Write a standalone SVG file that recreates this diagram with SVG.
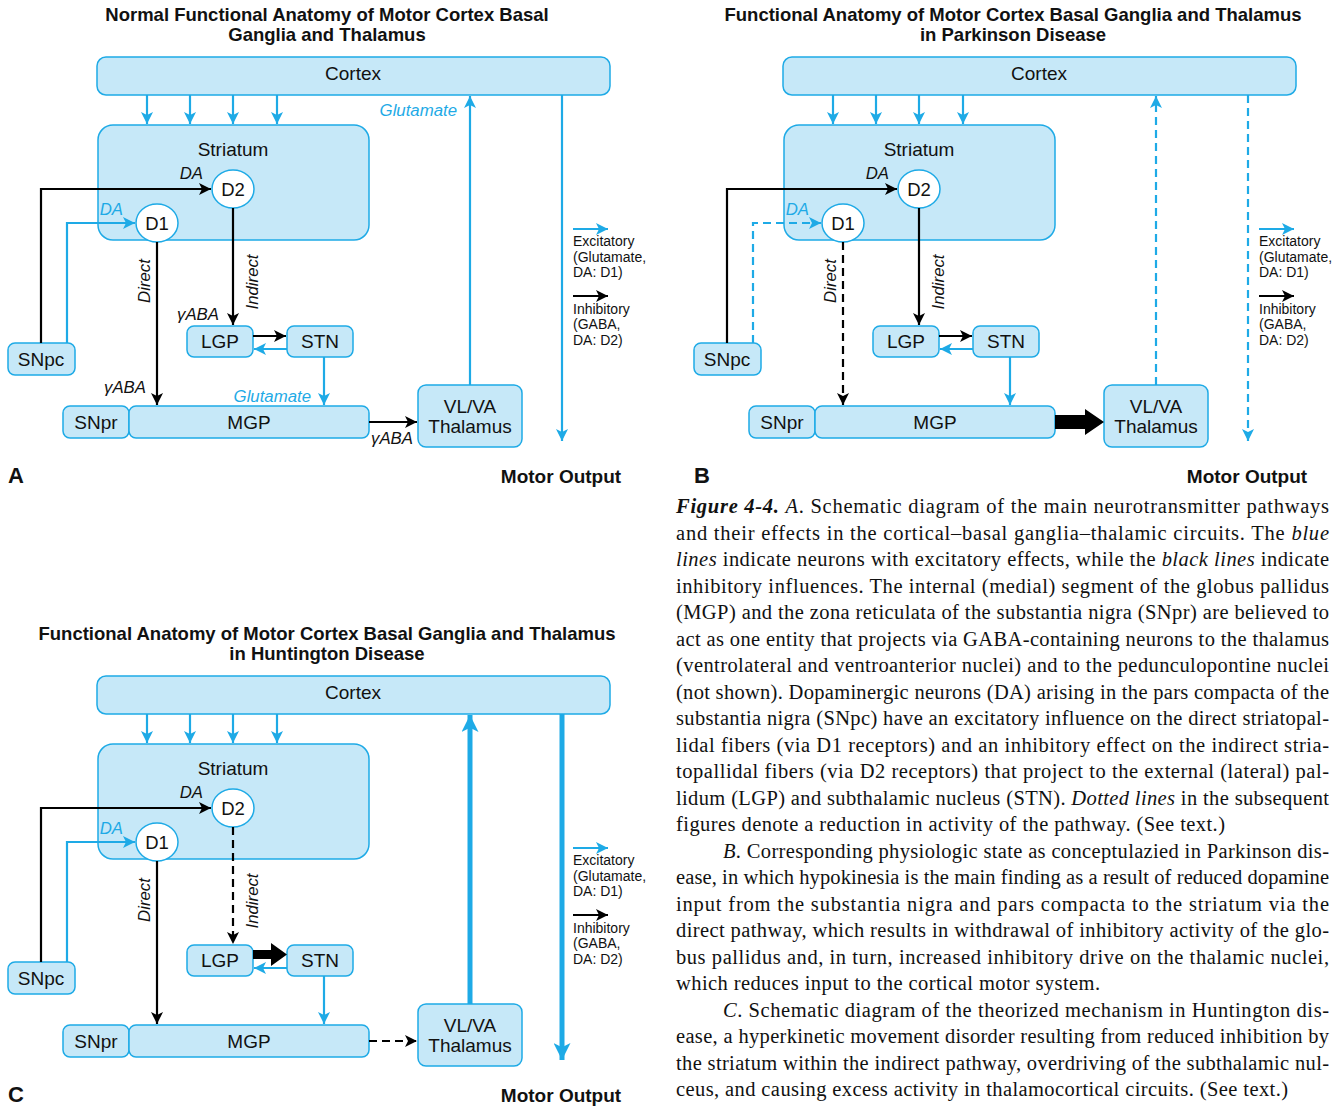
<svg xmlns="http://www.w3.org/2000/svg" width="1340" height="1107" viewBox="0 0 1340 1107">
<style>
.box{fill:#c6e8f8;stroke:#1eaae6;stroke-width:1.5}
.rc{fill:#fff;stroke:#1eaae6;stroke-width:1.5}
.t{font-family:"Liberation Sans",Arial,sans-serif;font-size:19px;text-anchor:middle;fill:#111}
.d{font-size:18.5px}
.ttl{font-family:"Liberation Sans",Arial,sans-serif;font-size:18.5px;font-weight:bold;text-anchor:middle;fill:#111}
.big{font-family:"Liberation Sans",Arial,sans-serif;font-size:22px;font-weight:bold;fill:#111}
.mo{font-family:"Liberation Sans",Arial,sans-serif;font-size:19px;font-weight:bold;text-anchor:middle;fill:#111}
.it{font-family:"Liberation Sans",Arial,sans-serif;font-size:16.8px;font-style:italic;fill:#111}
.itb{font-family:"Liberation Sans",Arial,sans-serif;font-size:16.8px;font-style:italic;fill:#1eaae6}
.lg{font-family:"Liberation Sans",Arial,sans-serif;font-size:14px;fill:#111}
.b{stroke:#1eaae6;stroke-width:2.2;fill:none}
.k{stroke:#000;stroke-width:2.2;fill:none}
.bt{stroke:#1eaae6;stroke-width:5;fill:none}
.ds{stroke-dasharray:8 5}
.cap{font-family:"Liberation Serif","Times New Roman",serif;font-size:20.5px;fill:#111}
</style>
<defs>
<marker id="mb" viewBox="0 0 10 10" refX="10" refY="5" markerWidth="12" markerHeight="12" markerUnits="userSpaceOnUse" orient="auto"><path d="M0,0 L10,5 L0,10 L2.5,5 z" fill="#1eaae6"/></marker>
<marker id="mk" viewBox="0 0 10 10" refX="10" refY="5" markerWidth="12" markerHeight="12" markerUnits="userSpaceOnUse" orient="auto"><path d="M0,0 L10,5 L0,10 L2.5,5 z" fill="#000"/></marker>
<marker id="mbb" viewBox="0 0 10 10" refX="10" refY="5" markerWidth="17" markerHeight="17" markerUnits="userSpaceOnUse" orient="auto"><path d="M0,0 L10,5 L0,10 L2.5,5 z" fill="#1eaae6"/></marker>
</defs>

<!-- ================= PANEL A ================= -->
<g id="panelA">
<text class="ttl" x="327" y="21">Normal Functional Anatomy of Motor Cortex Basal</text>
<text class="ttl" x="327" y="41">Ganglia and Thalamus</text>
<g id="A-cortex"><rect class="box" x="97" y="57" width="513" height="38" rx="9"/><text class="t" x="353" y="80">Cortex</text></g>
<g id="A-striatum"><rect class="box" x="98" y="125" width="271" height="115" rx="15"/><text class="t" x="233" y="156">Striatum</text></g>
<g id="A-D2"><ellipse class="rc" cx="233" cy="189" rx="21" ry="19"/><text class="t d" x="233" y="195.5">D2</text></g>
<g id="A-D1"><ellipse class="rc" cx="157" cy="223" rx="21" ry="19"/><text class="t d" x="157" y="229.5">D1</text></g>
<g id="A-SNpc"><rect class="box" x="8" y="343" width="67" height="32" rx="7"/><text class="t" x="41" y="366">SNpc</text></g>
<g id="A-LGP"><rect class="box" x="187" y="326" width="66" height="31" rx="7"/><text class="t" x="220" y="348">LGP</text></g>
<g id="A-STN"><rect class="box" x="287" y="326" width="66" height="31" rx="7"/><text class="t" x="320" y="348">STN</text></g>
<g id="A-SNpr"><rect class="box" x="63" y="406" width="66" height="32" rx="7"/><text class="t" x="96" y="429">SNpr</text></g>
<g id="A-MGP"><rect class="box" x="129" y="406" width="240" height="32" rx="7"/><text class="t" x="249" y="429">MGP</text></g>
<g id="A-thal"><rect class="box" x="418" y="385" width="104" height="62" rx="8"/><text class="t" x="470" y="413">VL/VA</text><text class="t" x="470" y="433">Thalamus</text></g>
<g id="A-connectors">
<path class="b" d="M147,95 V124" marker-end="url(#mb)"/>
<path class="b" d="M190,95 V124" marker-end="url(#mb)"/>
<path class="b" d="M233,95 V124" marker-end="url(#mb)"/>
<path class="b" d="M277,95 V124" marker-end="url(#mb)"/>
<path class="k" d="M41,343 V189 H211" marker-end="url(#mk)"/>
<path class="b" d="M67,343 V223 H135" marker-end="url(#mb)"/>
<path class="k" d="M157,242 V405" marker-end="url(#mk)"/>
<path class="k" d="M233,208 V325" marker-end="url(#mk)"/>
<path class="k" d="M253,336 H286" marker-end="url(#mk)"/>
<path class="b" d="M287,349 H254" marker-end="url(#mb)"/>
<path class="b" d="M324,357 V405" marker-end="url(#mb)"/>
<path class="k" d="M369,422 H417" marker-end="url(#mk)"/>
<path class="b" d="M470,385 V96" marker-end="url(#mb)"/>
<path class="b" d="M562,95 V441" marker-end="url(#mb)"/>
</g>
<text class="it" x="203" y="179" text-anchor="end">DA</text>
<text class="itb" x="123" y="215" text-anchor="end">DA</text>
<text class="it" transform="translate(150,281) rotate(-90)" text-anchor="middle">Direct</text>
<text class="it" transform="translate(258,282) rotate(-90)" text-anchor="middle">Indirect</text>
<text class="it" x="219" y="320" text-anchor="end">γABA</text>
<text class="it" x="146" y="393" text-anchor="end">γABA</text>
<text class="it" x="371" y="444">γABA</text>
<text class="itb" x="457" y="116" text-anchor="end">Glutamate</text>
<text class="itb" x="311" y="402" text-anchor="end">Glutamate</text>
<g id="A-legend">
<path class="b" d="M573,229 H608" marker-end="url(#mb)"/>
<text class="lg" x="573" y="246">Excitatory</text><text class="lg" x="573" y="262">(Glutamate,</text><text class="lg" x="573" y="277">DA: D1)</text>
<path class="k" d="M573,296 H608" marker-end="url(#mk)"/>
<text class="lg" x="573" y="314">Inhibitory</text><text class="lg" x="573" y="329">(GABA,</text><text class="lg" x="573" y="345">DA: D2)</text>
</g>
<text class="big" x="8" y="483">A</text>
<text class="mo" x="561" y="483">Motor Output</text>
</g>

<!-- ================= PANEL B ================= -->
<g id="panelB" transform="translate(686,0)">
<text class="ttl" x="327" y="21">Functional Anatomy of Motor Cortex Basal Ganglia and Thalamus</text>
<text class="ttl" x="327" y="41">in Parkinson Disease</text>
<g id="B-cortex"><rect class="box" x="97" y="57" width="513" height="38" rx="9"/><text class="t" x="353" y="80">Cortex</text></g>
<g id="B-striatum"><rect class="box" x="98" y="125" width="271" height="115" rx="15"/><text class="t" x="233" y="156">Striatum</text></g>
<g id="B-D2"><ellipse class="rc" cx="233" cy="189" rx="21" ry="19"/><text class="t d" x="233" y="195.5">D2</text></g>
<g id="B-D1"><ellipse class="rc" cx="157" cy="223" rx="21" ry="19"/><text class="t d" x="157" y="229.5">D1</text></g>
<g id="B-SNpc"><rect class="box" x="8" y="343" width="67" height="32" rx="7"/><text class="t" x="41" y="366">SNpc</text></g>
<g id="B-LGP"><rect class="box" x="187" y="326" width="66" height="31" rx="7"/><text class="t" x="220" y="348">LGP</text></g>
<g id="B-STN"><rect class="box" x="287" y="326" width="66" height="31" rx="7"/><text class="t" x="320" y="348">STN</text></g>
<g id="B-SNpr"><rect class="box" x="63" y="406" width="66" height="32" rx="7"/><text class="t" x="96" y="429">SNpr</text></g>
<g id="B-MGP"><rect class="box" x="129" y="406" width="240" height="32" rx="7"/><text class="t" x="249" y="429">MGP</text></g>
<g id="B-thal"><rect class="box" x="418" y="385" width="104" height="62" rx="8"/><text class="t" x="470" y="413">VL/VA</text><text class="t" x="470" y="433">Thalamus</text></g>
<g id="B-connectors">
<path class="b" d="M147,95 V124" marker-end="url(#mb)"/>
<path class="b" d="M190,95 V124" marker-end="url(#mb)"/>
<path class="b" d="M233,95 V124" marker-end="url(#mb)"/>
<path class="b" d="M277,95 V124" marker-end="url(#mb)"/>
<path class="k" d="M41,343 V189 H211" marker-end="url(#mk)"/>
<path class="b ds" d="M67,343 V223 H135" marker-end="url(#mb)"/>
<path class="k ds" d="M157,242 V405" marker-end="url(#mk)"/>
<path class="k" d="M233,208 V325" marker-end="url(#mk)"/>
<path class="k" d="M253,336 H286" marker-end="url(#mk)"/>
<path class="b" d="M287,349 H254" marker-end="url(#mb)"/>
<path class="b" d="M324,357 V405" marker-end="url(#mb)"/>
<path d="M369,415 H399 V409 L418,422 L399,435 V429 H369 z" fill="#000"/>
<path class="b ds" d="M470,385 V96" marker-end="url(#mb)"/>
<path class="b ds" d="M562,95 V441" marker-end="url(#mb)"/>
</g>
<text class="it" x="203" y="179" text-anchor="end">DA</text>
<text class="itb" x="123" y="215" text-anchor="end">DA</text>
<text class="it" transform="translate(150,281) rotate(-90)" text-anchor="middle">Direct</text>
<text class="it" transform="translate(258,282) rotate(-90)" text-anchor="middle">Indirect</text>
<g id="B-legend">
<path class="b" d="M573,229 H608" marker-end="url(#mb)"/>
<text class="lg" x="573" y="246">Excitatory</text><text class="lg" x="573" y="262">(Glutamate,</text><text class="lg" x="573" y="277">DA: D1)</text>
<path class="k" d="M573,296 H608" marker-end="url(#mk)"/>
<text class="lg" x="573" y="314">Inhibitory</text><text class="lg" x="573" y="329">(GABA,</text><text class="lg" x="573" y="345">DA: D2)</text>
</g>
<text class="big" x="8" y="483">B</text>
<text class="mo" x="561" y="483">Motor Output</text>
</g>

<!-- ================= PANEL C ================= -->
<g id="panelC" transform="translate(0,619)">
<text class="ttl" x="327" y="21">Functional Anatomy of Motor Cortex Basal Ganglia and Thalamus</text>
<text class="ttl" x="327" y="41">in Huntington Disease</text>
<g id="C-cortex"><rect class="box" x="97" y="57" width="513" height="38" rx="9"/><text class="t" x="353" y="80">Cortex</text></g>
<g id="C-striatum"><rect class="box" x="98" y="125" width="271" height="115" rx="15"/><text class="t" x="233" y="156">Striatum</text></g>
<g id="C-D2"><ellipse class="rc" cx="233" cy="189" rx="21" ry="19"/><text class="t d" x="233" y="195.5">D2</text></g>
<g id="C-D1"><ellipse class="rc" cx="157" cy="223" rx="21" ry="19"/><text class="t d" x="157" y="229.5">D1</text></g>
<g id="C-SNpc"><rect class="box" x="8" y="343" width="67" height="32" rx="7"/><text class="t" x="41" y="366">SNpc</text></g>
<g id="C-LGP"><rect class="box" x="187" y="326" width="66" height="31" rx="7"/><text class="t" x="220" y="348">LGP</text></g>
<g id="C-STN"><rect class="box" x="287" y="326" width="66" height="31" rx="7"/><text class="t" x="320" y="348">STN</text></g>
<g id="C-SNpr"><rect class="box" x="63" y="406" width="66" height="32" rx="7"/><text class="t" x="96" y="429">SNpr</text></g>
<g id="C-MGP"><rect class="box" x="129" y="406" width="240" height="32" rx="7"/><text class="t" x="249" y="429">MGP</text></g>
<g id="C-thal"><rect class="box" x="418" y="385" width="104" height="62" rx="8"/><text class="t" x="470" y="413">VL/VA</text><text class="t" x="470" y="433">Thalamus</text></g>
<g id="C-connectors">
<path class="b" d="M147,95 V124" marker-end="url(#mb)"/>
<path class="b" d="M190,95 V124" marker-end="url(#mb)"/>
<path class="b" d="M233,95 V124" marker-end="url(#mb)"/>
<path class="b" d="M277,95 V124" marker-end="url(#mb)"/>
<path class="k" d="M41,343 V189 H211" marker-end="url(#mk)"/>
<path class="b" d="M67,343 V223 H135" marker-end="url(#mb)"/>
<path class="k" d="M157,242 V405" marker-end="url(#mk)"/>
<path class="k ds" d="M233,208 V325" marker-end="url(#mk)"/>
<path d="M253,331 H271 V324 L287,335.5 L271,347 V340 H253 z" fill="#000"/>
<path class="b" d="M287,349 H254" marker-end="url(#mb)"/>
<path class="b" d="M324,357 V405" marker-end="url(#mb)"/>
<path class="k ds" d="M369,422 H417" marker-end="url(#mk)"/>
<path class="bt" d="M470,385 V96" marker-end="url(#mbb)"/>
<path class="bt" d="M562,95 V441" marker-end="url(#mbb)"/>
</g>
<text class="it" x="203" y="179" text-anchor="end">DA</text>
<text class="itb" x="123" y="215" text-anchor="end">DA</text>
<text class="it" transform="translate(150,281) rotate(-90)" text-anchor="middle">Direct</text>
<text class="it" transform="translate(258,282) rotate(-90)" text-anchor="middle">Indirect</text>
<g id="C-legend">
<path class="b" d="M573,229 H608" marker-end="url(#mb)"/>
<text class="lg" x="573" y="246">Excitatory</text><text class="lg" x="573" y="262">(Glutamate,</text><text class="lg" x="573" y="277">DA: D1)</text>
<path class="k" d="M573,296 H608" marker-end="url(#mk)"/>
<text class="lg" x="573" y="314">Inhibitory</text><text class="lg" x="573" y="329">(GABA,</text><text class="lg" x="573" y="345">DA: D2)</text>
</g>
<text class="big" x="8" y="483">C</text>
<text class="mo" x="561" y="483">Motor Output</text>
</g>

<!-- ================= CAPTION ================= -->
<g id="caption" class="cap">
<text x="676" y="513" textLength="653" lengthAdjust="spacing"><tspan font-weight="bold" font-style="italic">Figure 4-4.</tspan> <tspan font-style="italic">A</tspan>. Schematic diagram of the main neurotransmitter pathways</text>
<text x="676" y="539.5" textLength="653" lengthAdjust="spacing">and their effects in the cortical–basal ganglia–thalamic circuits. The <tspan font-style="italic">blue</tspan></text>
<text x="676" y="566" textLength="653" lengthAdjust="spacing"><tspan font-style="italic">lines</tspan> indicate neurons with excitatory effects, while the <tspan font-style="italic">black lines</tspan> indicate</text>
<text x="676" y="592.5" textLength="653" lengthAdjust="spacing">inhibitory influences. The internal (medial) segment of the globus pallidus</text>
<text x="676" y="619" textLength="653" lengthAdjust="spacing">(MGP) and the zona reticulata of the substantia nigra (SNpr) are believed to</text>
<text x="676" y="645.5" textLength="653" lengthAdjust="spacing">act as one entity that projects via GABA-containing neurons to the thalamus</text>
<text x="676" y="672" textLength="653" lengthAdjust="spacing">(ventrolateral and ventroanterior nuclei) and to the pedunculopontine nuclei</text>
<text x="676" y="698.5" textLength="653" lengthAdjust="spacing">(not shown). Dopaminergic neurons (DA) arising in the pars compacta of the</text>
<text x="676" y="725" textLength="653" lengthAdjust="spacing">substantia nigra (SNpc) have an excitatory influence on the direct striatopal-</text>
<text x="676" y="751.5" textLength="653" lengthAdjust="spacing">lidal fibers (via D1 receptors) and an inhibitory effect on the indirect stria-</text>
<text x="676" y="778" textLength="653" lengthAdjust="spacing">topallidal fibers (via D2 receptors) that project to the external (lateral) pal-</text>
<text x="676" y="804.5" textLength="653" lengthAdjust="spacing">lidum (LGP) and subthalamic nucleus (STN). <tspan font-style="italic">Dotted lines</tspan> in the subsequent</text>
<text x="676" y="831" textLength="549" lengthAdjust="spacing">figures denote a reduction in activity of the pathway. (See text.)</text>
<text x="723" y="857.5" textLength="606" lengthAdjust="spacing"><tspan font-style="italic">B</tspan>. Corresponding physiologic state as conceptulazied in Parkinson dis-</text>
<text x="676" y="884" textLength="653" lengthAdjust="spacing">ease, in which hypokinesia is the main finding as a result of reduced dopamine</text>
<text x="676" y="910.5" textLength="653" lengthAdjust="spacing">input from the substantia nigra and pars compacta to the striatum via the</text>
<text x="676" y="937" textLength="653" lengthAdjust="spacing">direct pathway, which results in withdrawal of inhibitory activity of the glo-</text>
<text x="676" y="963.5" textLength="653" lengthAdjust="spacing">bus pallidus and, in turn, increased inhibitory drive on the thalamic nuclei,</text>
<text x="676" y="990" textLength="424" lengthAdjust="spacing">which reduces input to the cortical motor system.</text>
<text x="723" y="1016.5" textLength="606" lengthAdjust="spacing"><tspan font-style="italic">C</tspan>. Schematic diagram of the theorized mechanism in Huntington dis-</text>
<text x="676" y="1043" textLength="653" lengthAdjust="spacing">ease, a hyperkinetic movement disorder resulting from reduced inhibition by</text>
<text x="676" y="1069.5" textLength="653" lengthAdjust="spacing">the striatum within the indirect pathway, overdriving of the subthalamic nul-</text>
<text x="676" y="1096" textLength="612" lengthAdjust="spacing">ceus, and causing excess activity in thalamocortical circuits. (See text.)</text>
</g>
</svg>
